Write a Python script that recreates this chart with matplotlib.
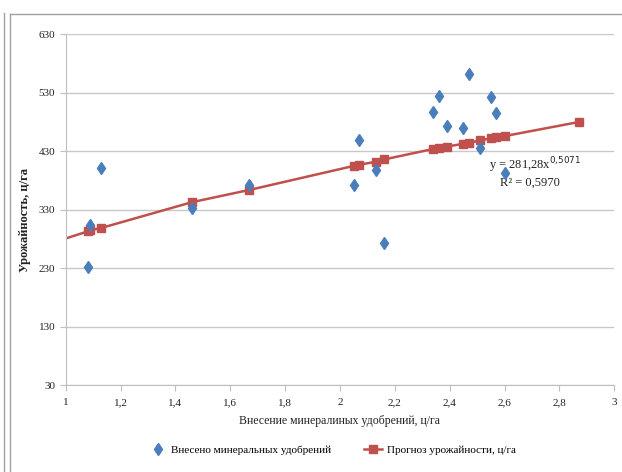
import numpy as np
import matplotlib
matplotlib.use('Agg')
import matplotlib.pyplot as plt
from matplotlib.lines import Line2D

plt.rcParams['font.family'] = ['Liberation Serif', 'DejaVu Serif']

# measured points: fertilizer applied (c/ha) vs yield (c/ha)
fert = [1.08, 1.09, 1.13, 1.46, 1.67, 2.05, 2.07, 2.13, 2.16, 2.34,
        2.36, 2.39, 2.45, 2.47, 2.51, 2.55, 2.57, 2.60]
yield_obs = [233, 304, 402, 333, 372, 373, 449, 398, 274, 497,
             525, 473, 469, 562, 435, 522, 496, 393]

# forecast series (squares)
fc_x = [1.08, 1.09, 1.13, 1.46, 1.67, 2.05, 2.07, 2.13, 2.16, 2.34,
        2.36, 2.39, 2.45, 2.47, 2.51, 2.55, 2.57, 2.60, 2.87]
fc_y = [293, 295, 299, 343, 364, 405, 407, 412, 416, 434,
        435, 438, 443, 444, 449, 452, 455, 456, 480]

# trend line start at x = 1
trend_x0, trend_y0 = 1.0, 281

xticks = [1, 1.2, 1.4, 1.6, 1.8, 2, 2.2, 2.4, 2.6, 2.8, 3]
xtick_labels = ['1', '1,2', '1,4', '1,6', '1,8', '2', '2,2', '2,4', '2,6', '2,8', '3']
yticks = [30, 130, 230, 330, 430, 530, 630]

blue = '#4a7ebb'
red = '#c0504d'

fig = plt.figure(figsize=(6.22, 4.72), dpi=100)
ax = fig.add_axes([65.7/622, 1-385.3/472, (614.3-65.7)/622, (385.3-34.3)/472])

ax.plot([trend_x0] + fc_x, [trend_y0] + fc_y, color=red, lw=1.8, zorder=2)
ax.plot(fc_x, fc_y, 's', color=red, ms=5.5, zorder=3)
ax.plot(fert, yield_obs, 'd', color=blue, ms=6, mec=blue, zorder=4)

ax.set_xlim(1, 3)
ax.set_ylim(30, 630)
ax.set_xticks(xticks)
ax.set_xticklabels(xtick_labels)
ax.set_yticks(yticks)
ax.grid(axis='y', color='#c8c8c8', lw=1)
ax.set_axisbelow(True)
for s in ['top', 'right']:
    ax.spines[s].set_visible(False)
for s in ['left', 'bottom']:
    ax.spines[s].set_color('#bfbfbf')
ax.tick_params(axis='both', colors='#bfbfbf', labelcolor='#222222', labelsize=8, length=4)
ax.tick_params(axis='x', pad=5)

ax.set_xlabel('Внесение минералиных удобрений, ц/га', fontsize=8.5, color='#222222', labelpad=6)
ax.set_ylabel('Урожайность, ц/га', fontsize=9, fontweight='bold', color='#222222')
ax.yaxis.set_label_coords(-0.063, 0.47)

ax.text(2.545, 407, 'y = 281,28x$^{0{,}5071}$', fontsize=9, va='center', color='#222222')
ax.text(2.584, 377, 'R² = 0,5970', fontsize=9, va='center', color='#222222')

handles = [Line2D([], [], ls='none', marker='d', color=blue, ms=6),
           Line2D([], [], color=red, lw=1.8, marker='s', ms=5.5)]
fig.legend(handles, ['Внесено минеральных удобрений', 'Прогноз урожайности, ц/га'],
           loc='center', bbox_to_anchor=(332/622, 1-450/472), ncol=2, frameon=False,
           fontsize=8, handlelength=1.6, columnspacing=3.0, handletextpad=0.4)

# outer frame lines of the chart object
fig.add_artist(Line2D([3.5/622, 3.5/622], [0, 1-13/472], color='#a0a0a0', lw=1))
fig.add_artist(Line2D([9.5/622, 9.5/622], [0, 1-13.5/472], color='#a0a0a0', lw=1))
fig.add_artist(Line2D([9.5/622, 1], [1-13.5/472, 1-13.5/472], color='#a0a0a0', lw=1))

fig.savefig('out.png', dpi=100)
